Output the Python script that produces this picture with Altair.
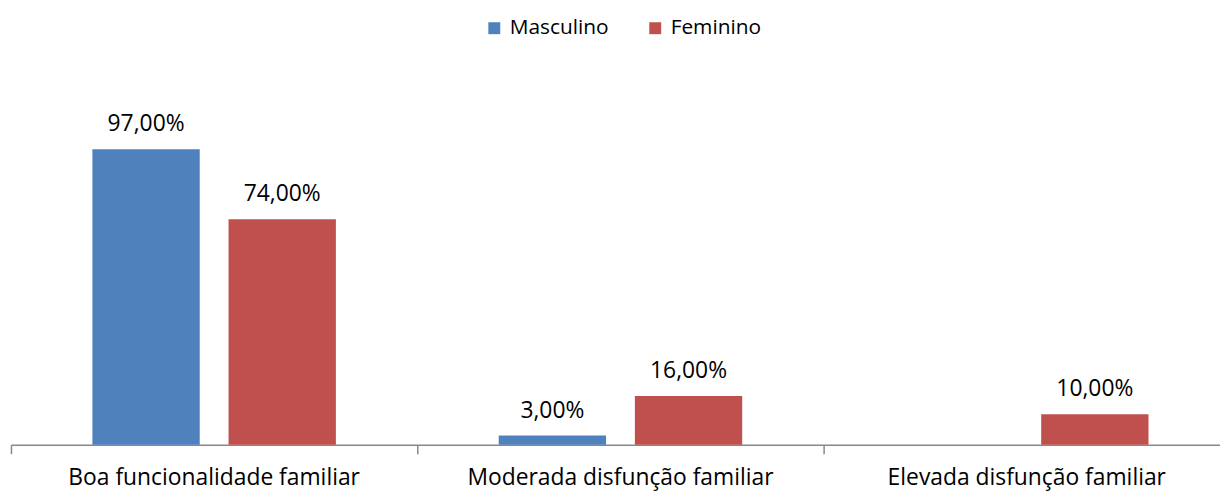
import altair as alt
import pandas as pd

categories = ["Boa funcionalidade familiar", "Moderada disfunção familiar", "Elevada disfunção familiar"]
series = ["Masculino", "Feminino"]
masculino = [97.0, 3.0, None]
feminino = [74.0, 16.0, 10.0]
colors = ["#4F81BD", "#C0504D"]

rows = []
for i, c in enumerate(categories):
    for s, vals in zip(series, [masculino, feminino]):
        v = vals[i]
        lab = "" if v is None else (f"{v:.2f}".replace(".", ",") + "%")
        rows.append({"cat": c, "serie": s, "value": v, "label": lab})
df = pd.DataFrame(rows)

FONT = "Open Sans"
FS = 23

x_enc_common = dict(field="cat", type="nominal", sort=categories,
                    scale=alt.Scale(paddingInner=0, paddingOuter=0))
xoff = alt.XOffset("serie:N", sort=series,
                   scale=alt.Scale(paddingInner=0.2117, paddingOuter=0.598))
y_enc = alt.Y("value:Q", scale=alt.Scale(domain=[0, 120], nice=False, zero=True), axis=None)

bars = alt.Chart(df).mark_bar().encode(
    x=alt.X(**x_enc_common, title=None,
            axis=alt.Axis(orient="bottom", labels=False, bandPosition=0, ticks=True, tickSize=9,
                          tickColor="#888888", domainColor="#888888", domainWidth=1.5,
                          tickWidth=1.5, grid=False, title=None)),
    xOffset=xoff,
    y=y_enc,
    color=alt.Color("serie:N", sort=series, scale=alt.Scale(domain=series, range=colors),
                    legend=alt.Legend(title=None, orient="none", direction="horizontal",
                                      legendX=476, legendY=-62, symbolType="square",
                                      symbolSize=144, symbolStrokeWidth=0, labelFont=FONT,
                                      labelFontSize=21, labelColor="#000000",
                                      columnPadding=36, labelOffset=5)),
)

text = alt.Chart(df).transform_filter("datum.value != null").mark_text(
    baseline="alphabetic", dy=-18, font=FONT, fontSize=FS, color="#000000"
).encode(
    x=alt.X(**x_enc_common, title=None,
            axis=alt.Axis(orient="bottom", labels=True, ticks=False, tickSize=0, domain=False,
                          labelFont=FONT, labelFontSize=FS, labelColor="#000000",
                          labelPadding=22, labelLimit=0, labelAngle=0, grid=False, title=None)),
    xOffset=xoff,
    y=y_enc,
    text="label:N",
)

chart = alt.layer(bars, text).resolve_axis(x="independent").properties(
    width=1227, height=368,
    autosize=alt.AutoSizeParams(type="none"),
    padding={"left": 3, "top": 70, "right": -10, "bottom": 45},
).configure_view(stroke=None)

chart.save("out.html", embed_options={"renderer": "svg", "actions": False})
